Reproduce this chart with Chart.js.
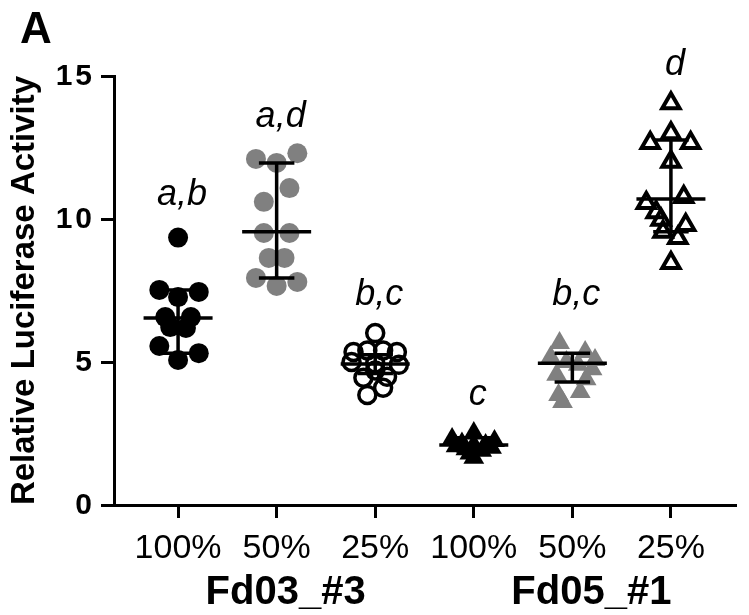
<!DOCTYPE html>
<html>
<head>
<meta charset="utf-8">
<script src="https://cdn.jsdelivr.net/npm/chart.js@4.4.0/dist/chart.umd.min.js"></script>
<style>
    html, body { margin: 0; padding: 0; background: #fff; }
</style>
</head>
<body>
<canvas id="lucChart" width="749" height="615"></canvas>
<script>
// category labels
var doseLabels = ['100%', '50%', '25%', '100%', '50%', '25%'];
var lineLabels = ['Fd03_#3', 'Fd05_#1'];
var yTickValues = [0, 5, 10, 15];

// values (relative luciferase activity), with horizontal spread
var fd03_100 = [9.35, 7.52, 7.27, 7.45, 6.57, 6.57, 6.22, 6.19, 5.56, 5.07, 5.31];
var fd03_100_spread = [0, -0.19, 0, 0.21, -0.13, 0.13, -0.08, 0.08, -0.19, 0, 0.21];
var fd03_50 = [12.1, 11.96, 12.3, 11.08, 10.6, 9.51, 9.51, 8.64, 8.64, 7.94, 7.66, 7.8];
var fd03_50_spread = [-0.21, 0, 0.21, 0.13, -0.13, -0.13, 0.13, -0.08, 0.08, -0.21, 0, 0.21];
var fd03_25 = [6.01, 5.35, 5.4, 5.4, 5.35, 5.0, 4.95, 4.9, 4.45, 4.48, 4.1, 3.85, 4.7];
var fd03_25_spread = [0, -0.22, -0.08, 0.08, 0.22, -0.24, 0, 0.24, -0.12, 0.12, 0.08, -0.08, 0];
var fd05_100 = [2.52, 2.31, 2.24, 2.15, 2.1, 2.05, 2.0, 2.1, 1.95, 1.9, 1.8, 1.65];
var fd05_100_spread = [0, -0.22, 0.21, -0.12, 0.12, -0.18, 0.18, 0, -0.08, 0.08, -0.04, 0];
var fd05_50 = [5.66, 5.35, 5.07, 5.17, 5.0, 4.9, 4.75, 4.55, 4.4, 3.95, 3.85, 3.6];
var fd05_50_spread = [-0.13, 0.13, 0.23, -0.22, -0.06, 0.06, 0.2, -0.16, 0.14, 0.08, -0.14, -0.1];
var fd05_25 = [14.05, 13.0, 12.66, 12.66, 12.0, 10.77, 10.56, 10.24, 9.97, 9.79, 9.55, 9.34, 8.46];
var fd05_25_spread = [0, 0, -0.21, 0.2, 0, 0.13, -0.25, -0.15, -0.1, 0.15, -0.08, 0.07, 0];

// centre line and bar ends per group
var centerLine = [6.54, 9.55, 4.93, 2.1, 4.96, 10.7];
var barLow = [5.31, 7.94, 4.6, 1.9, 4.3, 9.55];
var barHigh = [7.52, 11.96, 5.25, 2.35, 5.31, 12.76];

// significance letters and their height
var sigLetters = ['a,b', 'a,d', 'b,c', 'c', 'b,c', 'd'];
var sigLevel = [10.5, 13.2, 7.0, 3.5, 7.0, 15.03];

var FONT = '"Liberation Sans", Arial, Helvetica, sans-serif';
Chart.defaults.font.family = FONT;
Chart.defaults.color = '#000';

function toPoints(group, vals, spread) {
    return vals.map(function (v, i) {
        return { x: group + spread[i], y: v };
    });
}

// error bars, letters and extra labels
var extrasPlugin = {
    id: 'extras',
    afterDatasetsDraw: function (chart) {
        var ctx = chart.ctx;
        var xs = chart.scales.x;
        var ys = chart.scales.y;
        ctx.save();
        ctx.strokeStyle = '#000';
        ctx.lineWidth = 3.5;
        for (var i = 0; i < centerLine.length; i++) {
            var g = i + 1;
            var xc = xs.getPixelForValue(g);
            var yM = ys.getPixelForValue(centerLine[i]);
            var yL = ys.getPixelForValue(barLow[i]);
            var yH = ys.getPixelForValue(barHigh[i]);
            ctx.beginPath();
            ctx.moveTo(xs.getPixelForValue(g - 0.35), yM);
            ctx.lineTo(xs.getPixelForValue(g + 0.35), yM);
            ctx.moveTo(xc, yL);
            ctx.lineTo(xc, yH);
            ctx.moveTo(xs.getPixelForValue(g - 0.18), yL);
            ctx.lineTo(xs.getPixelForValue(g + 0.18), yL);
            ctx.moveTo(xs.getPixelForValue(g - 0.18), yH);
            ctx.lineTo(xs.getPixelForValue(g + 0.18), yH);
            ctx.stroke();
        }
        ctx.fillStyle = '#000';
        ctx.font = 'italic 36px ' + FONT;
        ctx.textAlign = 'center';
        ctx.textBaseline = 'alphabetic';
        for (var j = 0; j < sigLetters.length; j++) {
            ctx.fillText(sigLetters[j], xs.getPixelForValue(j + 1) + 4, ys.getPixelForValue(sigLevel[j]));
        }
        ctx.restore();
    },
    afterDraw: function (chart) {
        var ctx = chart.ctx;
        var xs = chart.scales.x;
        var ys = chart.scales.y;
        ctx.save();
        ctx.fillStyle = '#000';
        // y tick labels
        ctx.font = 'bold 30px ' + FONT;
        ctx.textAlign = 'right';
        ctx.textBaseline = 'middle';
        ctx.letterSpacing = '3px';
        yTickValues.forEach(function (v) {
            ctx.fillText(String(v), ys.right - 22 + 3, ys.getPixelForValue(v) + 1);
        });
        // group names under the doses
        ctx.letterSpacing = '0px';
        ctx.font = 'bold 40px ' + FONT;
        ctx.textAlign = 'center';
        ctx.textBaseline = 'alphabetic';
        ctx.fillText(lineLabels[0], xs.getPixelForValue(2) + 9, chart.chartArea.bottom + 99);
        ctx.fillText(lineLabels[1], xs.getPixelForValue(5) + 19, chart.chartArea.bottom + 99);
        // panel letter
        ctx.font = 'bold 44px ' + FONT;
        ctx.textAlign = 'left';
        ctx.fillText('A', 20, 43);
        ctx.restore();
    }
};

var ctx = document.getElementById('lucChart').getContext('2d');
var lucChart = new Chart(ctx, {
    type: 'scatter',
    data: {
        datasets: [
            { label: 'Fd03_#3 100%', data: toPoints(1, fd03_100, fd03_100_spread),
              pointStyle: 'circle', pointRadius: 10, backgroundColor: '#000', borderColor: '#000', borderWidth: 0 },
            { label: 'Fd03_#3 50%', data: toPoints(2, fd03_50, fd03_50_spread),
              pointStyle: 'circle', pointRadius: 10, backgroundColor: '#808080', borderColor: '#808080', borderWidth: 0 },
            { label: 'Fd03_#3 25%', data: toPoints(3, fd03_25, fd03_25_spread),
              pointStyle: 'circle', pointRadius: 8.5, backgroundColor: 'rgba(0,0,0,0)', borderColor: '#000', borderWidth: 3.5 },
            { label: 'Fd05_#1 100%', data: toPoints(4, fd05_100, fd05_100_spread),
              pointStyle: 'triangle', pointRadius: 12, backgroundColor: '#000', borderColor: '#000', borderWidth: 0 },
            { label: 'Fd05_#1 50%', data: toPoints(5, fd05_50, fd05_50_spread),
              pointStyle: 'triangle', pointRadius: 12, backgroundColor: '#808080', borderColor: '#808080', borderWidth: 0 },
            { label: 'Fd05_#1 25%', data: toPoints(6, fd05_25, fd05_25_spread),
              pointStyle: 'triangle', pointRadius: 10, backgroundColor: 'rgba(0,0,0,0)', borderColor: '#000', borderWidth: 4 }
        ]
    },
    options: {
        responsive: false,
        animation: false,
        layout: { padding: { top: 76, right: 0, left: 0, bottom: 0 } },
        plugins: {
            legend: { display: false },
            tooltip: { enabled: false }
        },
        scales: {
            x: {
                type: 'linear',
                min: 0.35,
                max: 6.65,
                afterBuildTicks: function (scale) {
                    scale.ticks = doseLabels.map(function (l, i) { return { value: i + 1 }; });
                },
                afterFit: function (scale) { scale.height = 110; },
                ticks: {
                    autoSkip: false,
                    maxRotation: 0,
                    padding: 10,
                    font: { size: 34 },
                    color: '#000',
                    callback: function (value) { return doseLabels[Math.round(value) - 1]; }
                },
                grid: { drawOnChartArea: false, color: '#000', lineWidth: 3, tickLength: 13 },
                border: { display: true, color: '#000', width: 3 }
            },
            y: {
                min: 0,
                max: 15,
                afterBuildTicks: function (scale) {
                    scale.ticks = yTickValues.map(function (v) { return { value: v }; });
                },
                afterFit: function (scale) { scale.width = 114; },
                ticks: { display: false },
                grid: { drawOnChartArea: false, color: '#000', lineWidth: 3, tickLength: 13 },
                border: { display: true, color: '#000', width: 3 },
                title: {
                    display: true,
                    text: 'Relative Luciferase Activity',
                    font: { size: 33, weight: 'bold' },
                    color: '#000',
                    padding: { top: 5, bottom: 0 }
                }
            }
        }
    },
    plugins: [extrasPlugin]
});
</script>
</body>
</html>
